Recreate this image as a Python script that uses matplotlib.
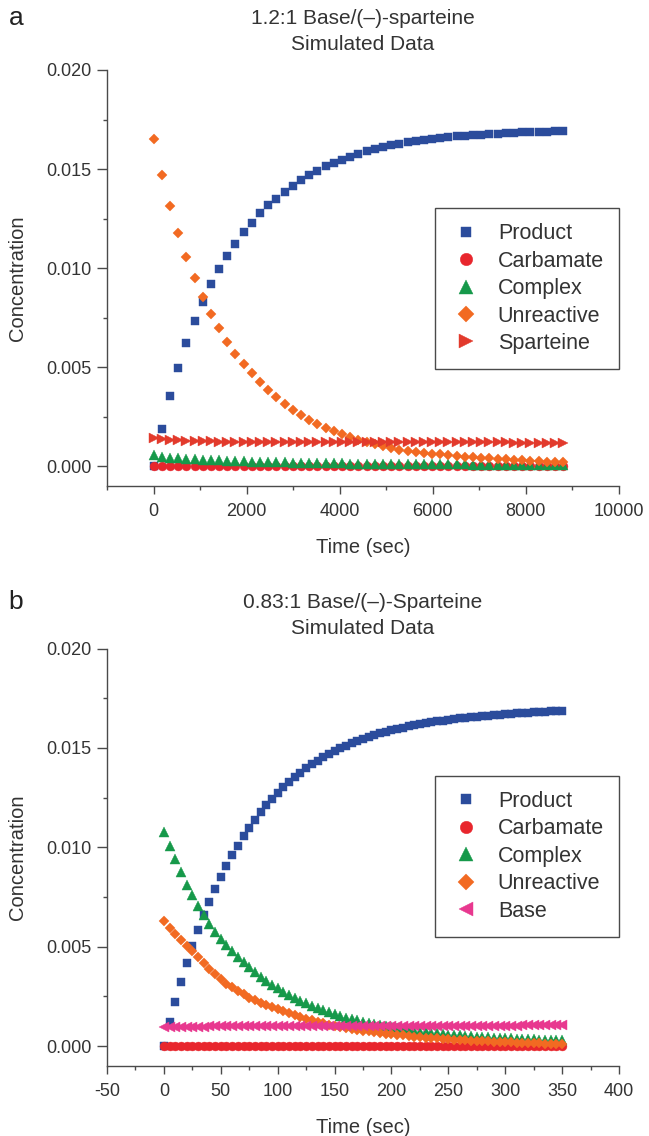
import numpy as np
import matplotlib
matplotlib.use('Agg')
import matplotlib.pyplot as plt
from matplotlib.ticker import MultipleLocator, FormatStrFormatter

plt.rcParams['font.family'] = ['Liberation Sans', 'DejaVu Sans']
plt.rcParams['axes.unicode_minus'] = False

TXT = '#333333'
EDGE = '#4a4a4a'

# ---- panel a: 1.2:1 base/(-)-sparteine, sampled every 176 s ----
time_a = np.arange(0, 8801, 176)

product_a = [
    0.0, 0.0019, 0.00353, 0.00497, 0.00624, 0.00734, 0.0083, 0.00918, 0.00995, 0.01062,
    0.01124, 0.0118, 0.01229, 0.01276, 0.01316, 0.01351, 0.01385, 0.01415, 0.01444, 0.01469,
    0.01492, 0.01513, 0.01531, 0.01548, 0.01563, 0.01577, 0.01589, 0.016, 0.0161, 0.01619,
    0.01627, 0.01634, 0.0164, 0.01646, 0.01652, 0.01656, 0.01661, 0.01665, 0.01668, 0.01671,
    0.01674, 0.01677, 0.01679, 0.01681, 0.01683, 0.01685, 0.01686, 0.01688, 0.01689, 0.0169,
    0.01691]
carbamate_a = [
    0.00002, 0.00002, 0.00001, 0.00001, 0.00001, 0.00001, 0.0, 0.0, 0.0, 0.0,
    0.0, 0.0, 0.0, 0.0, 0.0, 0.0, 0.0, 0.0, 0.0, 0.0,
    0.0, 0.0, 0.0, 0.0, 0.0, 0.0, 0.0, 0.0, 0.0, 0.0,
    0.0, 0.0, 0.0, 0.0, 0.0, 0.0, 0.0, 0.0, 0.0, 0.0,
    0.0, 0.0, 0.0, 0.0, 0.0, 0.0, 0.0, 0.0, 0.0, 0.0,
    0.0]
complex_a = [
    0.00054, 0.00047, 0.00043, 0.0004, 0.00037, 0.00035, 0.00033, 0.00031, 0.00029, 0.00028,
    0.00026, 0.00025, 0.00023, 0.00022, 0.00021, 0.0002, 0.00019, 0.00018, 0.00017, 0.00016,
    0.00015, 0.00015, 0.00014, 0.00014, 0.00013, 0.00013, 0.00012, 0.00012, 0.00011, 0.00011,
    0.00011, 0.0001, 0.0001, 0.0001, 0.0001, 0.00009, 0.00009, 0.00009, 0.00009, 0.00008,
    0.00008, 0.00008, 0.00008, 0.00008, 0.00008, 0.00007, 0.00007, 0.00007, 0.00007, 0.00007,
    0.00007]
unreactive_a = [
    0.01652, 0.01471, 0.01311, 0.01175, 0.01054, 0.0095, 0.00855, 0.00768, 0.00696, 0.00629,
    0.00568, 0.00516, 0.00469, 0.00424, 0.00383, 0.0035, 0.00316, 0.00286, 0.00259, 0.00235,
    0.00213, 0.00194, 0.00176, 0.0016, 0.00146, 0.00133, 0.00121, 0.0011, 0.001, 0.00091,
    0.00082, 0.00077, 0.00072, 0.00067, 0.00063, 0.00059, 0.00055, 0.00051, 0.00048, 0.00045,
    0.00042, 0.00039, 0.00036, 0.00034, 0.00031, 0.00029, 0.00027, 0.00025, 0.00023, 0.00021,
    0.0002]
sparteine_a = [
    0.00143, 0.00138, 0.00134, 0.00131, 0.00129, 0.00127, 0.00126, 0.00125, 0.00124, 0.00124,
    0.00123, 0.00123, 0.00123, 0.00122, 0.00122, 0.00122, 0.00122, 0.00122, 0.00122, 0.00122,
    0.00122, 0.00122, 0.00122, 0.00121, 0.00121, 0.00121, 0.00121, 0.00121, 0.00121, 0.00121,
    0.00121, 0.00121, 0.00121, 0.0012, 0.0012, 0.0012, 0.0012, 0.0012, 0.0012, 0.0012,
    0.0012, 0.0012, 0.0012, 0.0012, 0.00119, 0.00119, 0.00119, 0.00119, 0.00119, 0.00119,
    0.00119]

# ---- panel b: 0.83:1 base/(-)-sparteine, sampled every 5 s ----
time_b = np.arange(0, 351, 5)

product_b = [
    0.0, 0.00122, 0.00224, 0.00323, 0.00417, 0.00504, 0.00582, 0.00658, 0.00725, 0.00788,
    0.0085, 0.00905, 0.00959, 0.01009, 0.01056, 0.01098, 0.0114, 0.01176, 0.01211, 0.01244,
    0.01274, 0.01302, 0.01329, 0.01353, 0.01376, 0.01398, 0.01417, 0.01436, 0.01453, 0.01469,
    0.01484, 0.01498, 0.01511, 0.01523, 0.01535, 0.01545, 0.01555, 0.01564, 0.01573, 0.01581,
    0.01588, 0.01595, 0.01602, 0.01608, 0.01614, 0.0162, 0.01625, 0.0163, 0.01634, 0.01638,
    0.01642, 0.01646, 0.01649, 0.01652, 0.01655, 0.01658, 0.01661, 0.01663, 0.01666, 0.01668,
    0.0167, 0.01672, 0.01674, 0.01676, 0.01678, 0.01679, 0.01681, 0.01683, 0.01684, 0.01686,
    0.01687]
carbamate_b = [
    0.0, 0.0, 0.0, 0.0, 0.0, 0.0, 0.0, 0.0, 0.0, 0.0,
    0.0, 0.0, 0.0, 0.0, 0.0, 0.0, 0.0, 0.0, 0.0, 0.0,
    0.0, 0.0, 0.0, 0.0, 0.0, 0.0, 0.0, 0.0, 0.0, 0.0,
    0.0, 0.0, 0.0, 0.0, 0.0, 0.0, 0.0, 0.0, 0.0, 0.0,
    0.0, 0.0, 0.0, 0.0, 0.0, 0.0, 0.0, 0.0, 0.0, 0.0,
    0.0, 0.0, 0.0, 0.0, 0.0, 0.0, 0.0, 0.0, 0.0, 0.0,
    0.0, 0.0, 0.0, 0.0, 0.0, 0.0, 0.0, 0.0, 0.0, 0.0,
    0.0]
complex_b = [
    0.01076, 0.01006, 0.00939, 0.00875, 0.00813, 0.00758, 0.00704, 0.00658, 0.00612, 0.00575,
    0.0054, 0.00507, 0.00477, 0.00448, 0.00421, 0.00396, 0.00372, 0.0035, 0.00329, 0.0031,
    0.00291, 0.00274, 0.00258, 0.00243, 0.00229, 0.00216, 0.00204, 0.00192, 0.00181, 0.00171,
    0.00162, 0.00153, 0.00144, 0.00137, 0.00129, 0.00122, 0.00116, 0.0011, 0.00104, 0.00099,
    0.00094, 0.00089, 0.00085, 0.00081, 0.00077, 0.00073, 0.0007, 0.00067, 0.00064, 0.00061,
    0.00058, 0.00056, 0.00054, 0.00052, 0.0005, 0.00048, 0.00046, 0.00044, 0.00043, 0.00041,
    0.0004, 0.00039, 0.00037, 0.00036, 0.00035, 0.00034, 0.00033, 0.00033, 0.00032, 0.00031,
    0.0003]
unreactive_b = [
    0.00629, 0.00595, 0.00562, 0.00532, 0.00505, 0.00479, 0.00446, 0.00416, 0.00387, 0.00361,
    0.00336, 0.00315, 0.00296, 0.00277, 0.0026, 0.00244, 0.00231, 0.00219, 0.00207, 0.00196,
    0.00186, 0.00175, 0.00165, 0.00155, 0.00146, 0.00138, 0.0013, 0.00122, 0.00115, 0.00108,
    0.00102, 0.00097, 0.00092, 0.00087, 0.00082, 0.00078, 0.00074, 0.0007, 0.00067, 0.00063,
    0.0006, 0.00057, 0.00054, 0.00051, 0.00048, 0.00046, 0.00043, 0.00041, 0.00039, 0.00037,
    0.00035, 0.00033, 0.00031, 0.0003, 0.00028, 0.00027, 0.00025, 0.00024, 0.00023, 0.00021,
    0.0002, 0.00019, 0.00018, 0.00017, 0.00016, 0.00015, 0.00014, 0.00013, 0.00012, 0.00011,
    0.0001]
base_b = [
    0.00097, 0.00097, 0.00097, 0.00098, 0.00098, 0.00098, 0.00098, 0.00098, 0.00099, 0.00099,
    0.00099, 0.00099, 0.00099, 0.001, 0.001, 0.001, 0.001, 0.001, 0.001, 0.001,
    0.00101, 0.00101, 0.00101, 0.00101, 0.00101, 0.00101, 0.00101, 0.00101, 0.00101, 0.00101,
    0.00101, 0.00101, 0.00101, 0.00102, 0.00102, 0.00102, 0.00102, 0.00102, 0.00102, 0.00102,
    0.00102, 0.00102, 0.00102, 0.00102, 0.00102, 0.00103, 0.00103, 0.00103, 0.00103, 0.00103,
    0.00103, 0.00103, 0.00103, 0.00103, 0.00103, 0.00103, 0.00103, 0.00103, 0.00103, 0.00103,
    0.00103, 0.00103, 0.00103, 0.00104, 0.00104, 0.00104, 0.00104, 0.00104, 0.00104, 0.00104,
    0.00104]

# marker styles per species
sty = {
    'Product':    dict(marker='s', color='#2b4c9c', ms=5.6),
    'Carbamate':  dict(marker='o', color='#e8262d', ms=6.4),
    'Complex':    dict(marker='^', color='#16994a', ms=6.8),
    'Unreactive': dict(marker='D', color='#f26a22', ms=5.6),
    'Sparteine':  dict(marker='>', color='#e23a2c', ms=6.8),
    'Base':       dict(marker='<', color='#e8388f', ms=6.8),
}


def draw_series(ax, t, series):
    for name, y in series:
        s = sty[name]
        ax.plot(t, y, linestyle='none', marker=s['marker'], ms=s['ms'],
                color=s['color'], mec=s['color'], mew=0.3, label=name)


def style_axes(ax, xlim, xmajor, xminor):
    ax.set_xlim(*xlim)
    ax.set_ylim(-0.001, 0.020)
    ax.spines['top'].set_visible(False)
    ax.spines['right'].set_visible(False)
    for sp in ('left', 'bottom'):
        ax.spines[sp].set_color(EDGE)
        ax.spines[sp].set_linewidth(1.0)
    ax.xaxis.set_major_locator(MultipleLocator(xmajor))
    ax.xaxis.set_minor_locator(MultipleLocator(xminor))
    ax.yaxis.set_major_locator(MultipleLocator(0.005))
    ax.yaxis.set_minor_locator(MultipleLocator(0.0025))
    ax.yaxis.set_major_formatter(FormatStrFormatter('%.3f'))
    ax.tick_params(which='both', direction='out', color=EDGE, width=1.0,
                   labelcolor=TXT, labelsize=13)
    ax.tick_params(axis='y', which='major', length=7, pad=4)
    ax.tick_params(axis='x', which='major', length=6, pad=6)
    ax.tick_params(which='minor', length=3)
    ax.set_xlabel('Time (sec)', fontsize=14.5, color=TXT, va='center')
    ax.xaxis.set_label_coords(0.5, -0.147)
    ax.set_ylabel('Concentration', fontsize=14.5, color=TXT, va='center')
    ax.yaxis.set_label_coords(-0.174, 0.5)


def add_legend(ax, top):
    leg = ax.legend(loc='upper right', bbox_to_anchor=(1.0, top), borderaxespad=0,
                    fontsize=15.5, markerscale=1.4, numpoints=1, fancybox=False,
                    framealpha=1, edgecolor=EDGE, borderpad=0.7, handlelength=1.4,
                    handletextpad=0.8, labelspacing=0.3)
    leg.get_frame().set_linewidth(1.0)
    for txt in leg.get_texts():
        txt.set_color(TXT)


fig = plt.figure(figsize=(6.49, 11.36), dpi=100)
ax_a = fig.add_axes([0.1649, 0.5722, 0.7889, 0.3662])
ax_b = fig.add_axes([0.1649, 0.0616, 0.7889, 0.3675])

draw_series(ax_a, time_a, [('Product', product_a), ('Carbamate', carbamate_a),
                           ('Complex', complex_a), ('Unreactive', unreactive_a),
                           ('Sparteine', sparteine_a)])
style_axes(ax_a, (-1000, 10000), 2000, 1000)
add_legend(ax_a, 0.668)

draw_series(ax_b, time_b, [('Product', product_b), ('Carbamate', carbamate_b),
                           ('Complex', complex_b), ('Unreactive', unreactive_b),
                           ('Base', base_b)])
style_axes(ax_b, (-50, 400), 50, 25)
add_legend(ax_b, 0.695)

# titles and panel letters
xc = 0.5593
fig.text(xc, 1 - 18 / 1136, '1.2:1 Base/(–)-sparteine', ha='center', va='center',
         fontsize=15, color=TXT)
fig.text(xc, 1 - 44 / 1136, 'Simulated Data', ha='center', va='center',
         fontsize=15, color=TXT)
fig.text(xc, 1 - 603 / 1136, '0.83:1 Base/(–)-Sparteine', ha='center', va='center',
         fontsize=15, color=TXT)
fig.text(xc, 1 - 629 / 1136, 'Simulated Data', ha='center', va='center',
         fontsize=15, color=TXT)
fig.text(16 / 649, 1 - 18 / 1136, 'a', ha='center', va='center', fontsize=19, color='#222222')
fig.text(16 / 649, 1 - 602 / 1136, 'b', ha='center', va='center', fontsize=19, color='#222222')

fig.savefig('out.png', dpi=100)
